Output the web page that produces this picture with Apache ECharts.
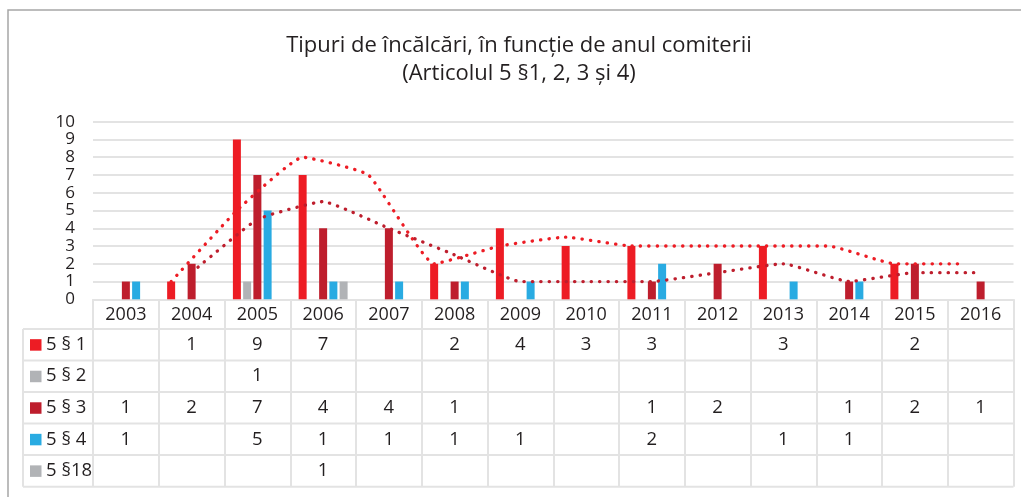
<!DOCTYPE html>
<html>
<head>
<meta charset="utf-8">
<script src="https://cdn.jsdelivr.net/npm/echarts@6/dist/echarts.min.js"></script>
<style>
  html, body { margin: 0; padding: 0; background: #fff; }
  #chart { width: 1021px; height: 497px; }
</style>
</head>
<body>
<div id="chart"></div>
<script>
// Years on the category axis
const years = ['2003', '2004', '2005', '2006', '2007', '2008', '2009', '2010', '2011', '2012', '2013', '2014', '2015', '2016'];

// Number of violations per year for each paragraph of Article 5
const art5p1  = [null, 1, 9, 7, null, 2, 4, 3, 3, null, 3, null, 2, null];
const art5p2  = [null, null, 1, null, null, null, null, null, null, null, null, null, null, null];
const art5p3  = [1, 2, 7, 4, 4, 1, null, null, 1, 2, null, 1, 2, 1];
const art5p4  = [1, null, 5, 1, 1, 1, 1, null, 2, null, 1, 1, null, null];
const art5p18 = [null, null, null, 1, null, null, null, null, null, null, null, null, null, null];

// Two-period moving averages (blank years skipped) for § 1 and § 3
const trend5p1 = [null, 1, 5, 8, 7, 2, 3, 3.5, 3, 3, 3, 3, 2, 2];
const trend5p3 = [null, 1.5, 4.5, 5.5, 4, 2.5, 1, 1, 1, 1.5, 2, 1, 1.5, 1.5];

// Value axis range
const yMin = 0, yMax = 10, yStep = 1;

const seriesNames = ['5 § 1', '5 § 2', '5 § 3', '5 § 4', '5 §18'];
const seriesData  = [art5p1, art5p2, art5p3, art5p4, art5p18];
const colors = ['#ED1C24', '#B1B3B6', '#BE1E2D', '#29ABE2', '#B1B3B6'];

const FONT = '"Open Sans", sans-serif';
const TEXT = '#231F20';
const LINE = '#E3E3E3';

const GRID = { left: 93, right: 7.5, top: 121.7, height: 177.6 };
const HEADER_H = 29.6;
const ROW_H = 31.55;
const TABLE_LEFT = 23;
const BAR_W = 8, BAR_GAP = 0.28;

const chart = echarts.init(document.getElementById('chart'), null, { renderer: 'canvas' });
const plotBottom = GRID.top + GRID.height;
const tableBottom = plotBottom + HEADER_H + ROW_H * seriesNames.length;
const plotWidth = chart.getWidth() - GRID.left - GRID.right;
const catWidth = plotWidth / years.length;

// horizontal offset (in category units) of a bar inside its cluster
function barOffset(idx) {
  const step = BAR_W * (1 + BAR_GAP);
  return ((idx - (seriesNames.length - 1) / 2) * step) / catWidth;
}

function trendPoints(values, idx) {
  const off = barOffset(idx);
  return values.map((v, i) => (v == null ? null : [i + off, v])).filter(p => p);
}

const barSeries = seriesData.map((d, k) => ({
  name: seriesNames[k],
  type: 'bar',
  data: d,
  barWidth: BAR_W,
  barGap: (BAR_GAP * 100) + '%',
  itemStyle: { color: colors[k] },
  xAxisIndex: 0,
  yAxisIndex: 0,
  silent: true
}));

const dotted = { type: [0.3, 8.1], cap: 'round', width: 3.3 };
const lineSeries = [
  { values: trend5p1, idx: 0, color: colors[0] },
  { values: trend5p3, idx: 2, color: colors[2] }
].map(t => ({
  type: 'line',
  xAxisIndex: 1,
  yAxisIndex: 0,
  data: trendPoints(t.values, t.idx),
  symbol: 'none',
  smooth: 0.12,
  lineStyle: Object.assign({ color: t.color }, dotted),
  z: 5,
  silent: true
}));

chart.setOption({
  animation: false,
  backgroundColor: '#fff',
  textStyle: { fontFamily: FONT },
  title: {
    text: 'Tipuri de încălcări, în funcție de anul comiterii\n(Articolul 5 §1, 2, 3 și 4)',
    left: 514,
    top: 27,
    textAlign: 'center',
    textStyle: { fontFamily: FONT, fontSize: 22, fontWeight: 'normal', color: TEXT, lineHeight: 28 }
  },
  grid: { left: GRID.left, right: GRID.right, top: GRID.top, height: GRID.height },
  xAxis: [
    {
      type: 'category',
      data: years,
      boundaryGap: true,
      axisLine: { lineStyle: { color: LINE, width: 2 } },
      axisTick: { show: true, length: tableBottom - plotBottom, lineStyle: { color: LINE, width: 2 } },
      axisLabel: { fontSize: 18, color: TEXT, margin: 7, fontFamily: FONT }
    },
    {
      type: 'value',
      min: -0.5,
      max: years.length - 0.5,
      show: false
    }
  ],
  yAxis: {
    type: 'value',
    min: yMin,
    max: yMax,
    interval: yStep,
    axisLine: { show: false },
    axisTick: { show: false },
    axisLabel: {
      fontSize: 17, color: TEXT, margin: 18, fontFamily: FONT, lineHeight: 17,
      showMinLabel: true, showMaxLabel: true
    },
    splitLine: { lineStyle: { color: LINE, width: 2 } }
  },
  series: barSeries.concat(lineSeries)
});

// Data table under the axis: legend keys, row values and cell borders
function buildTable() {
  const els = [];
  const right = chart.getWidth() - GRID.right;
  // outer chart-area border (only top and left edges fall inside the view)
  els.push({
    type: 'rect',
    shape: { x: 8, y: 10, width: 1200, height: 700 },
    style: { fill: null, stroke: '#A6A6A6', lineWidth: 1.5 },
    silent: true
  });
  const headerBottom = plotBottom + HEADER_H;
  for (let r = 0; r <= seriesNames.length; r++) {
    const y = headerBottom + r * ROW_H;
    els.push({
      type: 'line',
      shape: { x1: TABLE_LEFT, y1: y, x2: right, y2: y },
      style: { stroke: LINE, lineWidth: 2 },
      silent: true
    });
  }
  els.push({
    type: 'line',
    shape: { x1: TABLE_LEFT, y1: headerBottom, x2: TABLE_LEFT, y2: tableBottom },
    style: { stroke: LINE, lineWidth: 2 },
    silent: true
  });
  seriesNames.forEach((name, k) => {
    const cy = headerBottom + (k + 0.5) * ROW_H;
    els.push({
      type: 'rect',
      shape: { x: 30, y: cy - 5.5, width: 11.5, height: 11.5 },
      style: { fill: colors[k] },
      silent: true
    });
    els.push({
      type: 'text',
      x: 46, y: cy,
      style: { text: name, fontFamily: FONT, fontSize: 18.5, fill: TEXT, align: 'left', verticalAlign: 'middle' },
      silent: true
    });
    seriesData[k].forEach((v, i) => {
      if (v == null) return;
      const cx = chart.convertToPixel({ xAxisIndex: 0 }, i);
      els.push({
        type: 'text',
        x: cx, y: cy,
        style: { text: String(v), fontFamily: FONT, fontSize: 18.5, fill: TEXT, align: 'center', verticalAlign: 'middle' },
        silent: true
      });
    });
  });
  chart.setOption({ graphic: { elements: els } });
}
buildTable();
</script>
</body>
</html>
